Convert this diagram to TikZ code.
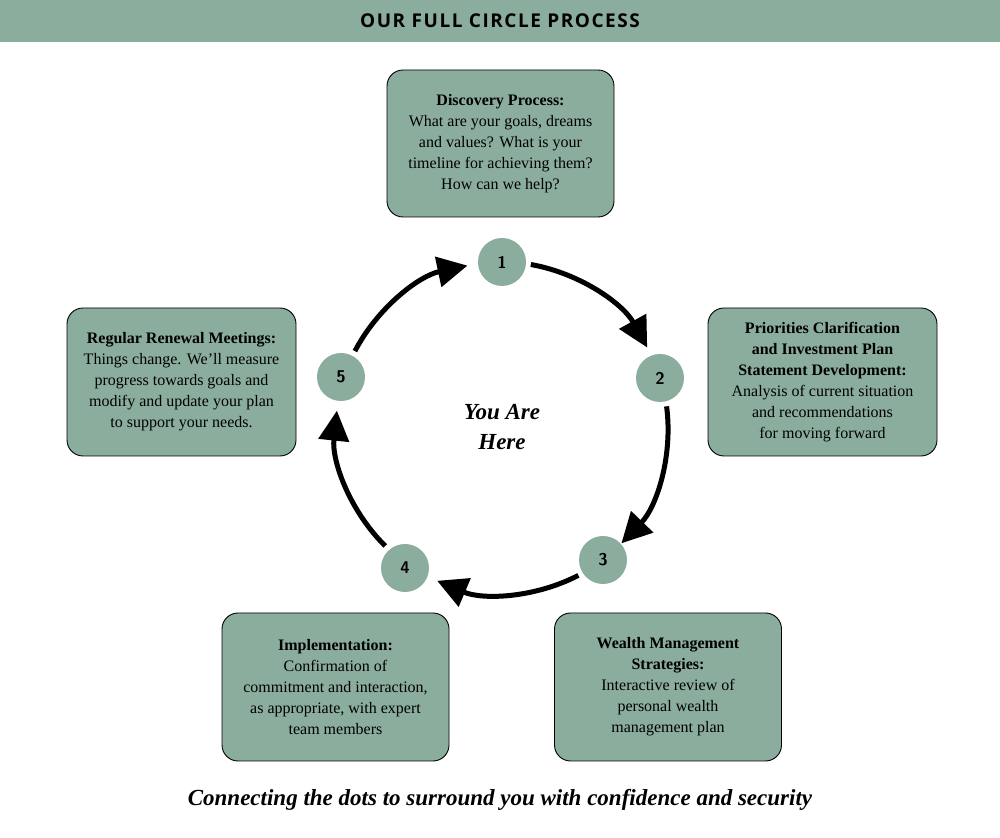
\documentclass[tikz,border=0pt]{standalone}
\usepackage{fontspec}
\setmainfont{Liberation Serif}
\newfontfamily\titlefont[LetterSpace=8]{Open Sans}
\usetikzlibrary{arrows.meta}
\definecolor{sage}{HTML}{8BAD9D}
\begin{document}
\begin{tikzpicture}[x=1pt,y=1pt,
  box/.style={draw=black,line width=0.9pt,fill=sage,rounded corners=16pt,align=center,inner sep=4pt,font=\fontsize{16}{21}\selectfont},
  dot/.style={circle,fill=sage,minimum size=48pt,inner sep=0pt,font=\sffamily\bfseries\fontsize{17}{20}\selectfont},
  arr/.style={line width=5pt,-{Triangle[length=30pt,width=30pt]}}]
\useasboundingbox (0,0) rectangle (1000,837);
\fill[sage] (0,795) rectangle (1000,837);
\node (title) at (500,816) {\titlefont\bfseries\fontsize{19}{22}\selectfont OUR FULL CIRCLE PROCESS};
\coordinate (c) at (502,409);
\draw[arr] ([shift={(80:166)}]c) arc[start angle=80,end angle=29,radius=166];
\draw[arr] ([shift={(7.5:166)}]c) arc[start angle=7.5,end angle=-44,radius=166];
\draw[arr] ([shift={(-62.6:166)}]c) arc[start angle=-62.6,end angle=-113,radius=166];
\draw[arr] ([shift={(225.3:166)}]c) arc[start angle=225.3,end angle=174,radius=166];
\draw[arr] ([shift={(152.4:166)}]c) arc[start angle=152.4,end angle=102,radius=166];
\node[dot] (d1) at (502,575) {1};
\node[dot] (d2) at (660,459) {2};
\node[dot] (d3) at (603,277) {3};
\node[dot] (d4) at (405,269) {4};
\node[dot] (d5) at (341,460) {5};
\node[font=\bfseries\itshape\fontsize{23}{30}\selectfont,align=center] (here) at (502,410) {You Are\\Here};
\node[box,minimum width=227pt,minimum height=147pt] (b1) at (500.5,693.5) {\textbf{Discovery Process:}\\What are your goals, dreams\\and values? What is your\\timeline for achieving them?\\How can we help?};
\node[box,minimum width=229pt,minimum height=148pt] (b2) at (822.5,455) {\textbf{Priorities Clarification}\\\textbf{and Investment Plan}\\\textbf{Statement Development:}\\Analysis of current situation\\and recommendations\\for moving forward};
\node[box,minimum width=227pt,minimum height=148pt] (b3) at (668,150) {\textbf{Wealth Management}\\\textbf{Strategies:}\\Interactive review of\\personal wealth\\management plan};
\node[box,minimum width=227pt,minimum height=148pt] (b4) at (335.5,150) {\textbf{Implementation:}\\Confirmation of\\commitment and interaction,\\as appropriate, with expert\\team members};
\node[box,minimum width=229pt,minimum height=148pt] (b5) at (181.5,455) {\textbf{Regular Renewal Meetings:}\\Things change. We'll measure\\progress towards goals and\\modify and update your plan\\to support your needs.};
\node[font=\bfseries\itshape\fontsize{23}{28}\selectfont] (tag) at (500,37) {Connecting the dots to surround you with confidence and security};
\end{tikzpicture}
\end{document}
